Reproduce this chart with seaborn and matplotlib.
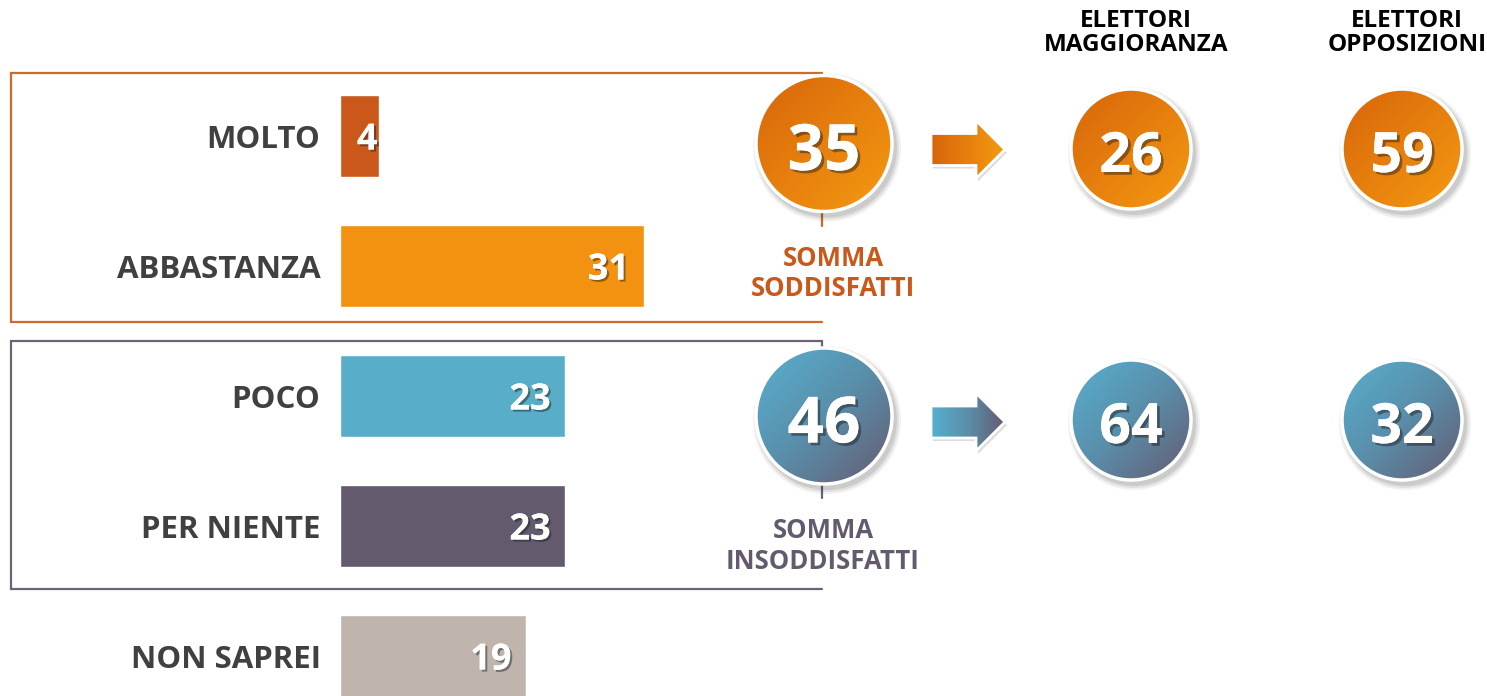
import numpy as np
import matplotlib.pyplot as plt
import seaborn as sns
from matplotlib.patches import Circle, Polygon
from matplotlib.colors import LinearSegmentedColormap
import matplotlib.patheffects as pe

# data
categories = ['MOLTO', 'ABBASTANZA', 'POCO', 'PER NIENTE', 'NON SAPREI']
values = [4, 31, 23, 23, 19]
bar_colors = ['#C9581A', '#F39110', '#58ADC8', '#635A6E', '#BFB5AD']

sum_labels = ['SOMMA\nSODDISFATTI', 'SOMMA\nINSODDISFATTI']
sum_values = [35, 46]
groups = ['ELETTORI\nMAGGIORANZA', 'ELETTORI\nOPPOSIZIONI']
group_values = [[26, 64], [59, 32]]   # per group: soddisfatti, insoddisfatti

sns.set_theme(style='white')
plt.rcParams['font.family'] = ['Open Sans', 'DejaVu Sans']

W, H = 1487, 696
fig = plt.figure(figsize=(W / 100, H / 100), dpi=100)

# bar chart, 1 unit = 9.8 px
px_unit = 9.8
axb = fig.add_axes([340 / W, -25 / H, 420 / W, 650 / H])
sns.barplot(x=values, y=categories, hue=categories, palette=bar_colors, width=0.63,
            saturation=1, legend=False, ax=axb)
axb.set_xlim(0, 420 / px_unit)
axb.set_ylim(4.5, -0.5)
sns.despine(ax=axb, left=True, bottom=True)
axb.set_xticks([])
axb.set_xlabel('')
axb.set_ylabel('')
axb.tick_params(axis='y', length=0, pad=14, labelsize=22.5, labelcolor='#404040')
for lab in axb.get_yticklabels():
    lab.set_fontweight('bold')
axb.patch.set_alpha(0)

shadow = [pe.withSimplePatchShadow(offset=(1.5, -1.5), shadow_rgbFace='k', alpha=0.45), pe.Normal()]
for i, v in enumerate(values):
    off = 0.15 if v < 6 else 1.5
    axb.text(v - off, i, str(v), ha='right', va='center_baseline', color='white',
             fontsize=26, fontweight='bold', path_effects=shadow)

# overlay in pixel coords
ax = fig.add_axes([0, 0, 1, 1], zorder=-1)
ax.set_xlim(0, W)
ax.set_ylim(H, 0)
ax.axis('off')
ax2 = fig.add_axes([0, 0, 1, 1], zorder=5)
ax2.set_xlim(0, W)
ax2.set_ylim(H, 0)
ax2.axis('off')
ax2.patch.set_alpha(0)

orange = '#D0692A'
purple = '#6B6378'
# frames
for (y0, y1, col, cy) in [(73, 322, orange, 143.5), (341, 589, purple, 416)]:
    ax.plot([822, 11, 11, 822], [y0, y0, y1, y1], color=col, lw=1.6, solid_joinstyle='miter')
    ax.plot([822, 822], [y0, cy + 82], color=col, lw=1.6)

grad_or = LinearSegmentedColormap.from_list('o', ['#D8650A', '#F59A12'])
grad_bl = LinearSegmentedColormap.from_list('b', ['#57B0CF', '#5A8EAA', '#655B70'])


def gradient_patch(axis, patch, extent, cmap, diag=True):
    x0, x1, y0, y1 = extent
    n = 200
    gx, gy = np.meshgrid(np.linspace(0, 1, n), np.linspace(0, 1, n))
    g = (gx + gy) / 2 if diag else gx
    im = axis.imshow(g, cmap=cmap, extent=(x0, x1, y1, y0), origin='upper',
                     interpolation='bilinear', zorder=3)
    im.set_clip_path(patch)


def bubble(axis, cx, cy, r, val, cmap, fs):
    for k, a in [(6, 0.06), (4, 0.08), (2, 0.1)]:
        axis.add_patch(Circle((cx + 3, cy + 4), r + k, color='k', alpha=a, lw=0, zorder=1))
    base = Circle((cx, cy), r, facecolor='none', edgecolor='white', lw=2.5, zorder=4)
    clip = Circle((cx, cy), r, facecolor='none', lw=0, transform=axis.transData)
    axis.add_patch(clip)
    gradient_patch(axis, clip, (cx - r, cx + r, cy - r, cy + r), cmap)
    axis.add_patch(base)
    axis.text(cx, cy + 2, str(val), ha='center', va='center_baseline', color='white',
              fontsize=fs, fontweight='bold', zorder=6,
              path_effects=[pe.withSimplePatchShadow(offset=(2, -2), shadow_rgbFace='k', alpha=0.45),
                            pe.Normal()])


def arrow(axis, x0, cy, cmap):
    pts = [(x0, cy - 16), (x0 + 45, cy - 16), (x0 + 45, cy - 29), (x0 + 74, cy),
           (x0 + 45, cy + 29), (x0 + 45, cy + 16), (x0, cy + 16)]
    sh = Polygon([(x + 2, y + 3) for x, y in pts], color='k', alpha=0.15, lw=0, zorder=1)
    axis.add_patch(sh)
    clip = Polygon(pts, facecolor='none', lw=0)
    axis.add_patch(clip)
    gradient_patch(axis, clip, (x0, x0 + 74, cy - 29, cy + 29), cmap, diag=False)
    axis.add_patch(Polygon(pts, facecolor='none', edgecolor='white', lw=2, zorder=4))


sum_cy = [143.5, 416]
cmaps = [grad_or, grad_bl]
sum_cols = ['#C9581A', '#635A6E']
sum_tx = [833, 823]
for k in range(2):
    bubble(ax2, 824, sum_cy[k], 68, sum_values[k], cmaps[k], 46)
    arrow(ax2, 931, sum_cy[k] + 6, cmaps[k])
    ax2.text(sum_tx[k], sum_cy[k] + 130, sum_labels[k], ha='center', va='center',
             color=sum_cols[k], fontsize=18.5, fontweight='bold', linespacing=1.15)

gx = [1131, 1402]
head_x = [1136, 1407]
for j in range(2):
    ax2.text(head_x[j], 33, groups[j], ha='center', va='center', color='black',
             fontsize=17.5, fontweight='bold', linespacing=0.95)
    for k in range(2):
        bubble(ax2, gx[j], [149, 420][k], 60, group_values[j][k], cmaps[k], 40)

fig.savefig('out.png', dpi=100, facecolor='white')
